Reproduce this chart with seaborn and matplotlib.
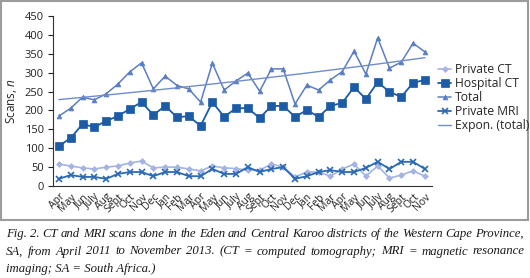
import numpy as np
import pandas as pd
import matplotlib
matplotlib.use('Agg')
import matplotlib.pyplot as plt
from matplotlib.patches import Rectangle
import seaborn as sns

# datos (abril 2011 - noviembre 2013)
months = ['Apr', 'May', 'Jun', 'July', 'Aug', 'Sept', 'Oct', 'Nov', 'Dec', 'Jan', 'Feb', 'Mar',
          'Apr', 'May', 'Jun', 'July', 'Aug', 'Sept', 'Oct', 'Nov', 'Dec', 'Jan', 'Feb', 'Mar',
          'Apr', 'May', 'Jun', 'July', 'Aug', 'Sept', 'Oct', 'Nov']
private_ct = [58, 53, 48, 45, 50, 53, 61, 66, 48, 50, 50, 45, 40, 53, 48, 46,
              42, 42, 58, 50, 24, 37, 37, 26, 45, 58, 26, 53, 21, 29, 40, 26]
hospital_ct = [106, 127, 164, 156, 172, 185, 204, 222, 188, 212, 182, 185, 159, 222, 183, 206,
               206, 180, 212, 212, 183, 201, 183, 212, 220, 262, 230, 275, 249, 236, 273, 281]
total = [185, 206, 235, 228, 244, 270, 302, 326, 257, 291, 266, 257, 222, 325, 254, 278,
         299, 251, 310, 310, 217, 267, 254, 281, 303, 357, 296, 392, 312, 328, 378, 355]
private_mri = [19, 29, 24, 24, 19, 32, 37, 37, 26, 37, 37, 26, 26, 45, 32, 32,
               50, 37, 45, 50, 19, 26, 37, 42, 37, 37, 48, 64, 45, 64, 64, 45]
y_ticks = [0, 50, 100, 150, 200, 250, 300, 350, 400, 450]

caption_lines = [
    'Fig. 2. CT and MRI scans done in the Eden and Central Karoo districts of the Western Cape Province,',
    'SA, from April 2011 to November 2013. (CT = computed tomography; MRI = magnetic resonance',
    'imaging; SA = South Africa.)',
]

sns.set_style('white')
plt.rcParams['font.family'] = ['Open Sans', 'DejaVu Sans']
plt.rcParams['mathtext.fontset'] = 'custom'
plt.rcParams['mathtext.it'] = 'Open Sans:italic'

idx = np.arange(len(months))
df = pd.DataFrame({'i': idx, 'Private CT': private_ct, 'Hospital CT': hospital_ct,
                   'Total': total, 'Private MRI': private_mri})

# tendencia exponencial sobre el total
b, log_a = np.polyfit(idx, np.log(total), 1)
df['Expon. (total)'] = np.exp(log_a) * np.exp(b * idx)

fig = plt.figure(figsize=(5.3, 2.78), dpi=100)
ax = fig.add_axes([53 / 530, 1 - 186 / 278, (432 - 53) / 530, (186 - 16) / 278])

series = [
    ('Private CT', '#a3b3e3', 'D', 3.0, 1.2),
    ('Hospital CT', '#1c5ba6', 's', 6.0, 1.3),
    ('Total', '#5b7ec3', '^', 3.5, 1.1),
    ('Private MRI', '#2a69b4', 'x', 5.0, 1.3),
]
for name, color, marker, ms, lw in series:
    sns.lineplot(data=df, x='i', y=name, ax=ax, color=color, marker=marker,
                 markersize=ms, linewidth=lw, markeredgecolor=color,
                 markeredgewidth=1.2 if marker == 'x' else 0.5, label=name)
sns.lineplot(data=df, x='i', y='Expon. (total)', ax=ax, color='#6e8dcb',
             linewidth=1.0, label='Expon. (total)')

ax.set_xlim(-0.5, 31.6)
ax.set_ylim(0, 450)
ax.set_yticks(y_ticks)
ax.tick_params(axis='y', labelsize=8, length=3.5, width=0.8, direction='out',
               left=True, pad=3, colors='#222222')
ax.set_xticks(idx)
ax.set_xticklabels(months, rotation=45, ha='right', rotation_mode='anchor')
ax.tick_params(axis='x', labelsize=7.5, length=0, pad=4, colors='#222222')
ax.set_xlabel('')
ax.set_ylabel('Scans, $n$', fontsize=8.5, labelpad=4)
sns.despine(ax=ax)
for s in ['left', 'bottom']:
    ax.spines[s].set_color('#333333')
    ax.spines[s].set_linewidth(0.8)

ax.get_legend().remove()
h, l = ax.get_legend_handles_labels()
fig.legend(h, l, loc='upper left', bbox_to_anchor=(438 / 530, 1 - 63 / 278),
           frameon=False, fontsize=8.7, handlelength=1.1, handletextpad=0.3,
           labelspacing=0.08, borderpad=0, borderaxespad=0)

# marco gris alrededor del grafico
fig.patches.append(Rectangle((1 / 530, 1 - 220 / 278), 527 / 530, 219 / 278,
                             transform=fig.transFigure, fill=False,
                             edgecolor='#9c9c9c', linewidth=1.5))

# leyenda de la figura, justificada a mano
renderer = fig.canvas.get_renderer()
x0, x1 = 6 / 530, 524 / 530
cap_font = dict(family='Liberation Serif', style='italic', fontsize=9.2, color='#1a1a1a')
for k, line in enumerate(caption_lines):
    y = 1 - (234 + 17.5 * k) / 278
    words = line.split(' ')
    if k == len(caption_lines) - 1:
        fig.text(x0, y, line, va='center', ha='left', **cap_font)
        continue
    widths = []
    for w in words:
        t = fig.text(0, 0, w, **cap_font)
        widths.append(t.get_window_extent(renderer).width / fig.bbox.width)
        t.remove()
    gap = (x1 - x0 - sum(widths)) / (len(words) - 1)
    x = x0
    for w, wd in zip(words, widths):
        fig.text(x, y, w, va='center', ha='left', **cap_font)
        x += wd + gap

fig.savefig('out.png', dpi=100)
